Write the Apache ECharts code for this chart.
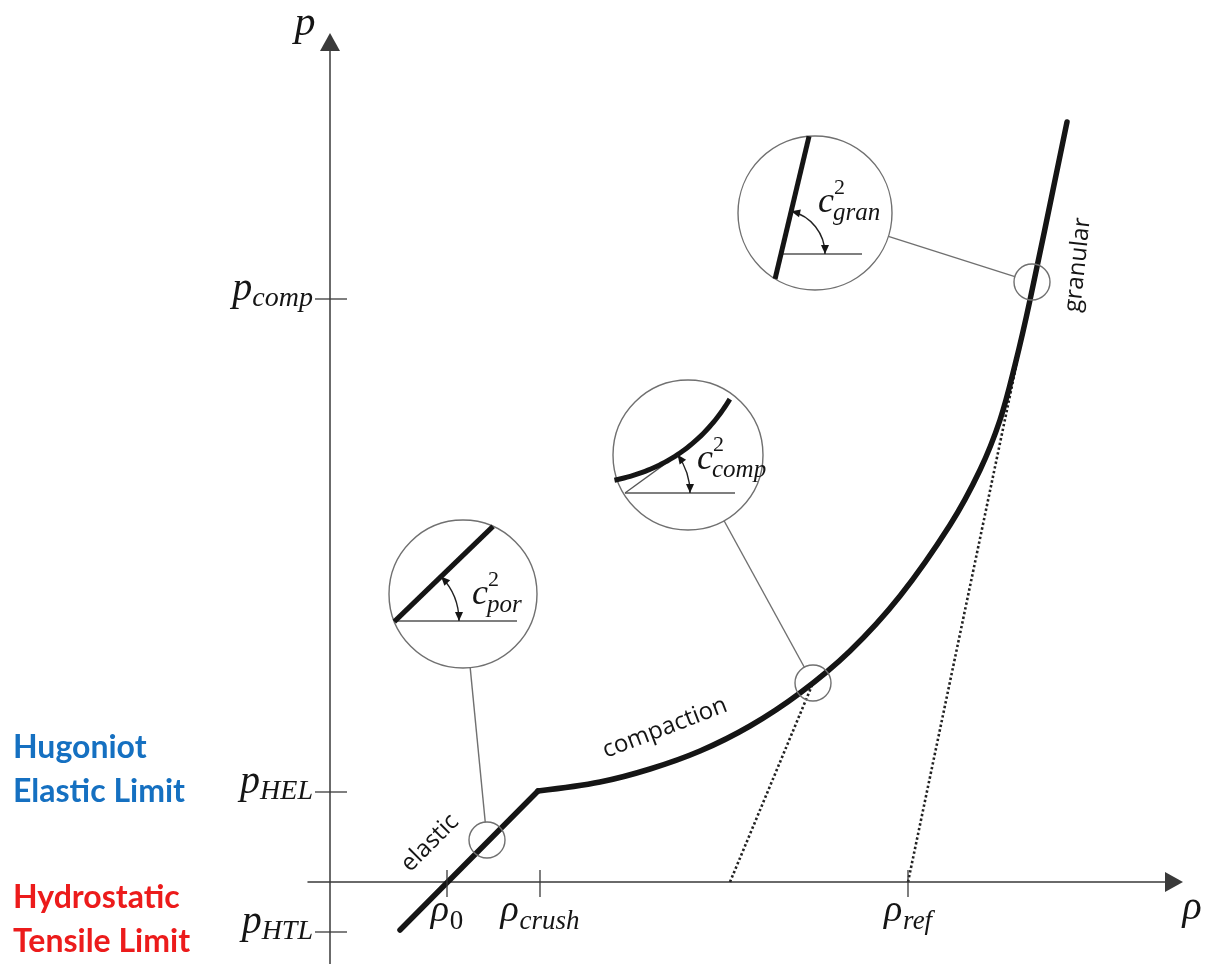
<!DOCTYPE html>
<html>
<head>
<meta charset="utf-8">
<script src="https://cdn.jsdelivr.net/npm/echarts@6/dist/echarts.min.js"></script>
<style>
  html, body { margin: 0; padding: 0; background: #fff; }
  #chart { width: 1213px; height: 964px; }
</style>
</head>
<body>
<div id="chart"></div>
<script>
// p–ρ compaction path of a porous material (schematic units)
const elasticPath = [[0.70, -0.48], [2.08, 0.91]];
const compactionPath = [
  [2.08, 0.91], [2.70, 1.00], [3.20, 1.13], [3.70, 1.31], [4.20, 1.56],
  [4.70, 1.89], [5.20, 2.31], [5.70, 2.86], [6.20, 3.57], [6.50, 4.12],
  [6.70, 4.62], [6.85, 5.17], [7.00, 5.82], [7.37, 7.60]
];
// dotted unloading tangents down to the ρ axis
const tangentComp = [[4.00, 0], [4.83, 1.99]];
const tangentGran = [[5.78, 0], [7.00, 5.82]];

// axis ticks
const pTickValues = [5.83, 0.90, -0.50];
const pTickSubs = ['comp', 'HEL', 'HTL'];
const rhoTickValues = [1.17, 2.10, 5.78];
const rhoTickSubs = ['0', 'crush', 'ref'];

// notes beside the pressure limits
const noteTicks = [0.90, -0.50];
const noteLines = [['Hugoniot', 'Elastic Limit'], ['Hydrostatic', 'Tensile Limit']];
const noteColors = ['#1570c1', '#ec1b1b'];

// magnified insets: centre, spot on the path, slope angle (deg), subscript
const insetCenters = [[1.33, 2.88], [3.58, 4.27], [4.85, 6.69]];
const insetSpots = [[1.57, 0.42], [4.83, 1.99], [7.02, 6.00]];
const insetSlopeDeg = [44, 36, 76.6];
const insetSubs = ['por', 'comp', 'gran'];

// regime names along the path
const regionNames = ['elastic', 'compaction', 'granular'];
const regionAt = [[1.00, 0.39], [3.35, 1.54], [7.48, 6.17]];
const regionAngleDeg = [45, 21, 84];

const X_MIN = -0.22, X_MAX = 8.44, Y_MIN = -0.82, Y_MAX = 8.40;

const D2R = Math.PI / 180;
const SERIF = "'Liberation Serif', 'DejaVu Serif', serif";
const SANS = "'Open Sans', 'Noto Sans', sans-serif";
const mctx = document.createElement('canvas').getContext('2d');
function textWidth(f, s) { mctx.font = f; return mctx.measureText(s).width; }
function serif(size, italic) { return (italic ? 'italic ' : '') + size + 'px ' + SERIF; }
function txt(x, y, s, f, fill, align, rot) {
  const el = {
    type: 'text', x: x, y: y,
    style: { text: s, font: f, fill: fill || '#151515',
      align: align || 'left', verticalAlign: 'middle',
      textAlign: align || 'left', textVerticalAlign: 'middle' }
  };
  if (rot) el.rotation = rot;
  return el;
}
// italic base letter with a subscript; y is the middle line of the base
function mathLabel(x, y, base, sub, o) {
  const bf = serif(o.baseSize, true);
  const sf = serif(o.subSize, o.subItalic !== false);
  const wb = textWidth(bf, base);
  const ws = textWidth(sf, sub);
  const total = wb + o.gap + ws;
  let left = x;
  if (o.anchor === 'right') left = x - total;
  else if (o.anchor === 'center') left = x - total / 2;
  return [txt(left, y, base, bf), txt(left + wb + o.gap, y + o.subDy, sub, sf)];
}

const chart = echarts.init(document.getElementById('chart'));

const AXIS_COLOR = '#3a3a3a';
const THIN = { stroke: '#707070', lineWidth: 1.4, fill: 'none' };

// ticks, tick labels, axis titles, side notes
function renderAxisDecor(params, api) {
  const o = api.coord([0, 0]);
  const top = api.coord([0, Y_MAX])[1];
  const right = api.coord([X_MAX, 0])[0];
  const ch = [];
  pTickValues.forEach(function (v, i) {
    const y = api.coord([0, v])[1];
    ch.push({ type: 'line', shape: { x1: o[0] - 15, y1: y, x2: o[0] + 17, y2: y },
      style: { stroke: AXIS_COLOR, lineWidth: 1.3 } });
    mathLabel(o[0] - 17, y - 10, 'p', pTickSubs[i],
      { baseSize: 40, subSize: 28, gap: 0, subDy: 10, anchor: 'right' })
      .forEach(function (e) { ch.push(e); });
  });
  rhoTickValues.forEach(function (v, i) {
    const x = api.coord([v, 0])[0];
    ch.push({ type: 'line', shape: { x1: x, y1: o[1] - 12, x2: x, y2: o[1] + 15 },
      style: { stroke: AXIS_COLOR, lineWidth: 1.3 } });
    mathLabel(x, o[1] + 29, 'ρ', rhoTickSubs[i],
      { baseSize: 38, subSize: 27, gap: 1, subDy: 11, anchor: 'center',
        subItalic: rhoTickSubs[i] !== '0' })
      .forEach(function (e) { ch.push(e); });
  });
  // axis titles
  ch.push(txt(o[0] - 25, top - 18, 'p', serif(42, true), '#151515', 'center'));
  ch.push(txt(right + 18, o[1] + 26, 'ρ', serif(40, true), '#151515', 'center'));
  // notes
  noteTicks.forEach(function (v, i) {
    const y = api.coord([0, v])[1];
    const dy = i === 0 ? [-44, 0] : [-34, 10];
    noteLines[i].forEach(function (s, k) {
      ch.push(txt(13, y + dy[k], s, "bold 32px Lato, 'Open Sans', sans-serif", noteColors[i], 'left'));
    });
  });
  return { type: 'group', children: ch };
}

// inset geometry in pixels (sizes of the magnified views)
const INSET_LAYOUT = [
  { r: 74, pivot: [-68, 27], flat: 122, arcR: 64, label: [9, 1] },
  { r: 75, pivot: [-63, 38], flat: 110, arcR: 65, label: [9, 5],
    curve: { s0: 72, k: 0.0031, from: -1, to: 141 }, tangentLen: 70 },
  { r: 77, pivot: [-34, 41], flat: 81, arcR: 44, label: [3, -10] }
];
const SPOT_R = 18;

function arrowHead(tip, dir, len, half) {
  const b = [tip[0] - dir[0] * len, tip[1] - dir[1] * len];
  const n = [-dir[1], dir[0]];
  return { type: 'polygon',
    shape: { points: [tip, [b[0] + n[0] * half, b[1] + n[1] * half], [b[0] - n[0] * half, b[1] - n[1] * half]] },
    style: { fill: '#151515' } };
}

function renderInset(params, api) {
  const i = params.dataIndex;
  const L = INSET_LAYOUT[i];
  const c = api.coord([api.value(0), api.value(1)]);
  const m = api.coord([api.value(2), api.value(3)]);
  const th = api.value(4) * D2R;
  const P = [c[0] + L.pivot[0], c[1] + L.pivot[1]];
  const d = [Math.cos(th), -Math.sin(th)];
  const ch = [];
  ch.push({ type: 'circle', shape: { cx: c[0], cy: c[1], r: L.r }, style: THIN });
  ch.push({ type: 'circle', shape: { cx: m[0], cy: m[1], r: SPOT_R }, style: THIN });
  const dx = m[0] - c[0], dy = m[1] - c[1], dl = Math.hypot(dx, dy);
  ch.push({ type: 'line', shape: {
    x1: c[0] + dx / dl * L.r, y1: c[1] + dy / dl * L.r,
    x2: m[0] - dx / dl * SPOT_R, y2: m[1] - dy / dl * SPOT_R }, style: THIN });
  // horizontal reference
  ch.push({ type: 'line', shape: { x1: P[0], y1: P[1], x2: P[0] + L.flat, y2: P[1] },
    style: { stroke: '#555', lineWidth: 1.3 } });
  if (L.curve) {
    ch.push({ type: 'line', shape: { x1: P[0], y1: P[1], x2: P[0] + d[0] * L.tangentLen, y2: P[1] + d[1] * L.tangentLen },
      style: { stroke: '#555', lineWidth: 1.3 } });
    const nrm = [-Math.sin(th), -Math.cos(th)];
    const pts = [];
    for (let s = L.curve.from; s <= L.curve.to; s += 3) {
      const n = L.curve.k * (s - L.curve.s0) * (s - L.curve.s0);
      pts.push([P[0] + d[0] * s + nrm[0] * n, P[1] + d[1] * s + nrm[1] * n]);
    }
    ch.push({ type: 'polyline', shape: { points: pts },
      style: { stroke: '#151515', lineWidth: 5, fill: 'none' } });
  } else {
    const f = [P[0] - c[0], P[1] - c[1]];
    const b = f[0] * d[0] + f[1] * d[1];
    const q = f[0] * f[0] + f[1] * f[1] - L.r * L.r;
    const disc = Math.sqrt(Math.max(0, b * b - q));
    const t1 = Math.max(-b - disc, q > 0 ? 0 : -b - disc), t2 = -b + disc;
    ch.push({ type: 'line', shape: {
      x1: P[0] + d[0] * t1, y1: P[1] + d[1] * t1, x2: P[0] + d[0] * t2, y2: P[1] + d[1] * t2 },
      style: { stroke: '#151515', lineWidth: 5, lineCap: 'butt' } });
  }
  // angle arc with arrowheads
  ch.push({ type: 'arc', shape: { cx: P[0], cy: P[1], r: L.arcR, startAngle: -th, endAngle: 0, clockwise: true },
    style: { stroke: '#222', lineWidth: 1.4, fill: 'none' } });
  ch.push(arrowHead([P[0] + L.arcR * Math.cos(th), P[1] - L.arcR * Math.sin(th)],
    [-Math.sin(th), -Math.cos(th)], 9, 4));
  ch.push(arrowHead([P[0] + L.arcR, P[1]], [0, 1], 9, 4));
  // c^2 label
  const lx = c[0] + L.label[0], ly = c[1] + L.label[1];
  const cf = serif(36, true);
  const wc = textWidth(cf, 'c');
  ch.push(txt(lx, ly, 'c', cf));
  ch.push(txt(lx + wc, ly - 15, '2', serif(22, false)));
  ch.push(txt(lx + wc - 1, ly + 10, insetSubs[i], serif(25, true)));
  return { type: 'group', children: ch };
}

function renderRegion(params, api) {
  const p = api.coord([api.value(0), api.value(1)]);
  return txt(p[0], p[1], regionNames[params.dataIndex], '24px ' + SANS, '#151515', 'center',
    regionAngleDeg[params.dataIndex] * D2R);
}

const lineBase = { type: 'line', symbol: 'none', silent: true, animation: false };

chart.setOption({
  animation: false,
  backgroundColor: '#ffffff',
  grid: { left: 308, right: 39, top: 42, bottom: 0, containLabel: false },
  xAxis: {
    type: 'value', min: X_MIN, max: X_MAX,
    axisLine: { show: true, onZero: true, symbol: ['none', 'triangle'], symbolSize: [20, 18],
      lineStyle: { color: AXIS_COLOR, width: 1.5 } },
    axisTick: { show: false }, axisLabel: { show: false }, splitLine: { show: false }
  },
  yAxis: {
    type: 'value', min: Y_MIN, max: Y_MAX,
    axisLine: { show: true, onZero: true, symbol: ['none', 'triangle'], symbolSize: [20, 18],
      lineStyle: { color: AXIS_COLOR, width: 1.5 } },
    axisTick: { show: false }, axisLabel: { show: false }, splitLine: { show: false }
  },
  series: [
    Object.assign({}, lineBase, { name: 'tangent comp', data: tangentComp, z: 2,
      lineStyle: { color: '#222', width: 2.6, type: [2.4, 2.4] } }),
    Object.assign({}, lineBase, { name: 'tangent gran', data: tangentGran, z: 2,
      lineStyle: { color: '#222', width: 2.6, type: [2.4, 2.4] } }),
    Object.assign({}, lineBase, { name: 'elastic', data: elasticPath, z: 3,
      lineStyle: { color: '#151515', width: 5.5, cap: 'round' } }),
    Object.assign({}, lineBase, { name: 'compaction', data: compactionPath, z: 3,
      smooth: 0.35,
      lineStyle: { color: '#151515', width: 5.5, cap: 'round' } }),
    { type: 'custom', name: 'axes', coordinateSystem: 'cartesian2d', clip: false, silent: true,
      z: 4, data: [[0, 0]], encode: { x: 0, y: 1 }, renderItem: renderAxisDecor },
    { type: 'custom', name: 'insets', coordinateSystem: 'cartesian2d', clip: false, silent: true,
      z: 5, encode: { x: 0, y: 1 },
      data: insetCenters.map(function (c, i) {
        return [c[0], c[1], insetSpots[i][0], insetSpots[i][1], insetSlopeDeg[i]];
      }),
      renderItem: renderInset },
    { type: 'custom', name: 'regions', coordinateSystem: 'cartesian2d', clip: false, silent: true,
      z: 5, encode: { x: 0, y: 1 }, data: regionAt, renderItem: renderRegion }
  ]
});
</script>
</body>
</html>
